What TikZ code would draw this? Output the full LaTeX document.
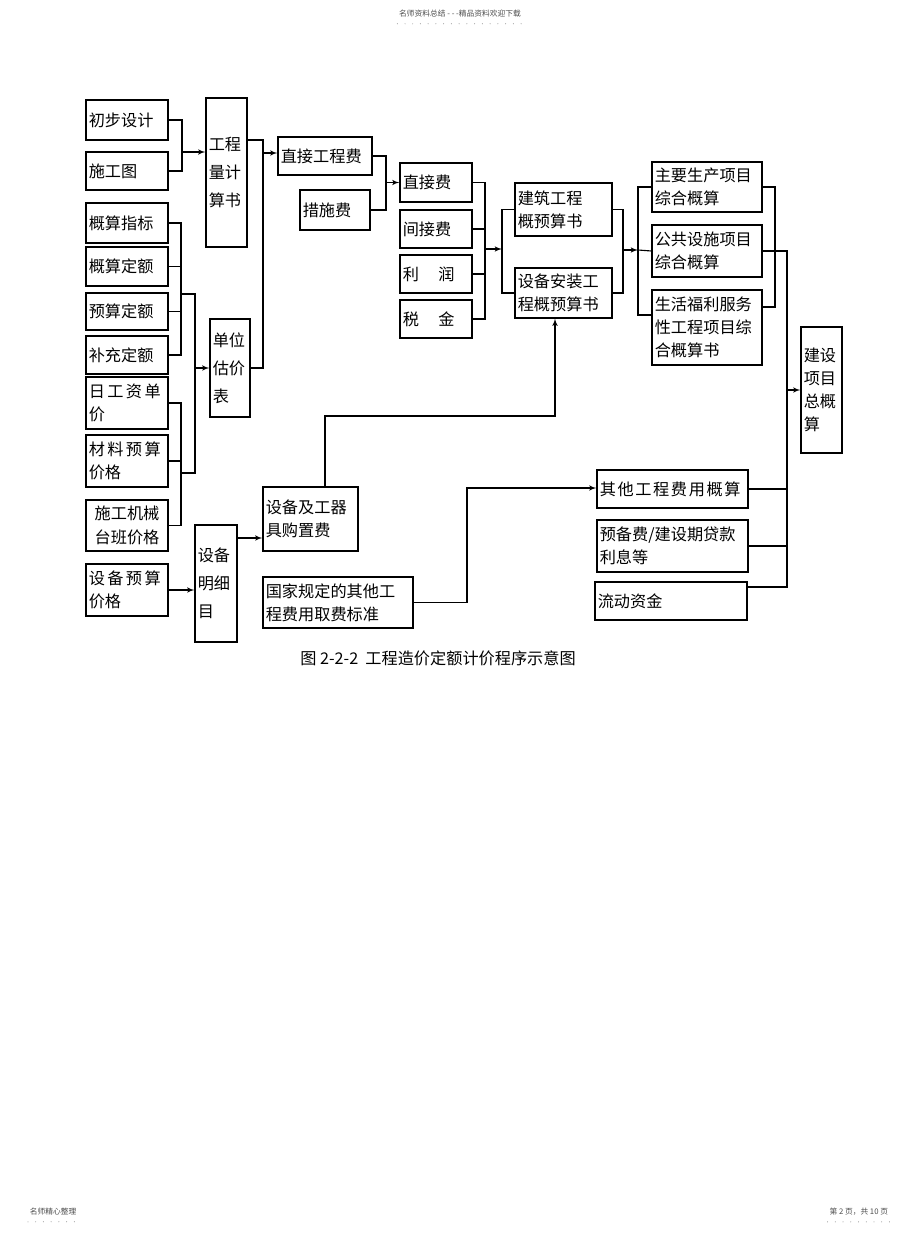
\documentclass[tikz,border=0pt]{standalone}
\usepackage{fontspec}
\newfontfamily\cjk{Noto Sans CJK SC}
\usetikzlibrary{shapes, arrows, positioning}
\tikzstyle{arr}  = [draw, -latex']
\tikzstyle{tall} = [font=\cjk\fontsize{11.5}{20}\selectfont]
\tikzstyle{tiny} = [font=\cjk\fontsize{5.5}{7}\selectfont, text=black!70, inner sep=1pt]
\tikzstyle{dots} = [line width=0.7pt, black!50, line cap=round, dash pattern=on 0pt off 5.5pt]
\tikzset{box/.style 2 args={draw, align=left, inner xsep=2pt, inner ysep=0pt,
    minimum width=#1*0.025cm, minimum height=#2*0.025cm, text width=#1*0.025cm-4pt,
    font=\cjk\fontsize{11.5}{16.5}\selectfont}}

\begin{document}
\begin{tikzpicture}[x=0.025cm, y=-0.025cm, line width=0.8pt]
\useasboundingbox (0,0) rectangle (920,1234);

% nodes
\node [box={82}{40}]        at (127, 120  ) (chubu)    {初步设计};
\node [box={82}{38}]        at (127, 171  ) (shigong)  {施工图};
\node [box={82}{40}]        at (127, 223  ) (gsZhibiao){概算指标};
\node [box={82}{39}]        at (127, 266.5) (gsDinge)  {概算定额};
\node [box={82}{37}]        at (127, 311.5) (ysDinge)  {预算定额};
\node [box={82}{38}]        at (127, 355  ) (bcDinge)  {补充定额};
\node [box={82}{52}]        at (127, 403  ) (rigz)     {日\hspace{.15em}工\hspace{.15em}资\hspace{.15em}单\\价};
\node [box={82}{52}]        at (127, 461  ) (clYusuan) {材\hspace{.15em}料\hspace{.15em}预\hspace{.15em}算\\价格};
\node [box={82}{51}, align=center] at (127, 525.5) (jixie) {施工机械\\台班价格};
\node [box={82}{52}]        at (127, 590  ) (sbYusuan) {设\hspace{.15em}备\hspace{.15em}预\hspace{.15em}算\\价格};

\node [box={41}{149}, tall] at (226.5, 172.5) (gcl)    {工程\\量计\\算书};
\node [box={40}{98}, tall]  at (230, 368  ) (dwgj)     {单位\\估价\\表};
\node [box={42}{117}, tall] at (216, 583.5) (sbmx)     {设备\\明细\\目};

\node [box={94}{38}]        at (325, 156  ) (zjgcf)    {直接工程费};
\node [box={70}{40}]        at (335, 210  ) (csf)      {措施费};
\node [box={95}{64}]        at (310.5, 519) (sbgz)     {设备及工器\\具购置费\\[-6pt]};
\node [box={150}{51}]       at (338, 602.5) (gjgd)     {国家规定的其他工\\程费用取费标准};

\node [box={72}{39}]        at (436, 182.5) (zjf)      {直接费};
\node [box={72}{38}]        at (436, 229  ) (jjf)      {间接费};
\node [box={72}{38}]        at (436, 274  ) (lirun)    {利\hspace{1.2em}润};
\node [box={72}{38}]        at (436, 319  ) (shuijin)  {税\hspace{1.2em}金};

\node [box={97}{53}]        at (563.5, 209.5) (jzgc)   {建筑工程\\概预算书};
\node [box={97}{50}]        at (563.5, 293  ) (sbaz)   {设备安装工\\程概预算书};

\node [box={110}{50}]       at (707, 187  ) (zysc)     {主要生产项目\\综合概算};
\node [box={110}{52}]       at (707, 251  ) (ggss)     {公共设施项目\\综合概算};
\node [box={110}{75}]       at (707, 327.5) (shfl)     {生活福利服务\\性工程项目综\\合概算书};

\node [box={151}{38}]       at (672.5, 489) (qtgc)     {其\hspace{.1em}他\hspace{.1em}工\hspace{.1em}程\hspace{.1em}费\hspace{.1em}用\hspace{.1em}概\hspace{.1em}算};
\node [box={151}{52}]       at (672.5, 546) (ybf)      {预备费/建设期贷款\\利息等};
\node [box={152}{38}]       at (671, 601  ) (ldzj)     {流动资金};

\node [box={41}{126}]       at (821.5, 390) (zgs)      {建设\\项目\\总概\\算};

\node [font=\cjk\fontsize{11.5}{14}\selectfont] at (438, 658) (caption)
      {图 2-2-2\ \ 工程造价定额计价程序示意图};

% page header and footer
\node [tiny]              at (460, 14)   (hdr)   {名师资料总结 - - -精品资料欢迎下载};
\node [tiny, anchor=west] at (28, 1212)  (ftl)   {名师精心整理};
\node [tiny, anchor=east] at (890, 1212) (ftr)   {第 2 页，共 10 页};
\draw [dots] ([yshift=-3pt]hdr.south west) -- ([yshift=-3pt]hdr.south east);
\draw [dots] ([yshift=-3pt]ftl.south west) -- ([yshift=-3pt]ftl.south east);
\draw [dots] ([yshift=-3pt]ftr.south west) -- ([yshift=-3pt]ftr.south east);

% junctions
\coordinate (jA)    at (182, 152);
\coordinate (bTop)  at (263, 140);
\coordinate (bArr)  at (263, 153);
\coordinate (jC)    at (386, 182.5);
\coordinate (jD)    at (485, 249);
\coordinate (jE)    at (502, 249);
\coordinate (jF)    at (623, 250);
\coordinate (jG)    at (638, 250);
\coordinate (jGlow) at (638, 315);
\coordinate (jH)    at (775, 307);
\coordinate (jI)    at (787, 390);
\coordinate (jIlow) at (787, 587);
\coordinate (kA)    at (181, 294);
\coordinate (kB)    at (181, 473);
\coordinate (kTop)  at (195, 294);
\coordinate (kBot)  at (195, 473);
\coordinate (mArr)  at (250, 538);
\coordinate (uTurn) at (325, 416);
\coordinate (uEnd)  at (555, 416);
\coordinate (vTurn) at (467, 488);

% edges
\draw (chubu.east) -| (jA);
\draw (shigong.east) -| (jA);
\draw [arr] (jA) -- (jA -| gcl.west);

\draw (bTop -| gcl.east) -- (bTop) -- (bTop |- dwgj.east) -- (dwgj.east);
\draw [arr] (bArr) -- (bArr -| zjgcf.west);

\draw (gsZhibiao.east) -| (kA |- bcDinge.east) -- (bcDinge.east);
\draw (gsDinge.east) -- (gsDinge.east -| kA);
\draw (ysDinge.east) -- (ysDinge.east -| kA);
\draw (rigz.east) -| (kB |- jixie.east) -- (jixie.east);
\draw (clYusuan.east) -- (clYusuan.east -| kB);
\draw (kA) -- (kTop) -- (kBot) -- (kB);
\draw [arr] (kTop |- dwgj.west) -- (dwgj.west);

\draw [arr] (sbYusuan.east) -- (sbYusuan.east -| sbmx.west);
\draw [arr] (sbmx.east |- mArr) -- (mArr -| sbgz.west);

\draw (zjgcf.east) -| (jC |- csf.east) -- (csf.east);
\draw [arr] (jC) -- (zjf.west);

\draw (zjf.east) -| (jD |- shuijin.east) -- (shuijin.east);
\draw (jjf.east) -- (jjf.east -| jD);
\draw (lirun.east) -- (lirun.east -| jD);
\draw [arr] (jD) -- (jE);
\draw (jzgc.west) -| (jE |- sbaz.west) -- (sbaz.west);

\draw [arr] (uTurn |- sbgz.north) -- (uTurn) -- (uEnd) -- (uEnd |- sbaz.south);

\draw (jzgc.east) -| (jF |- sbaz.east) -- (sbaz.east);
\draw [arr] (jF) -- (jG);
\draw (jG) -- (ggss.west);
\draw (zysc.west) -| (jGlow) -- (jGlow -| shfl.west);

\draw (zysc.east) -| (jH) -- (jH -| shfl.east);
\draw (ggss.east) -| (jIlow) -- (jIlow -| ldzj.east);
\draw (qtgc.east) -- (qtgc.east -| jI);
\draw (ybf.east) -- (ybf.east -| jI);
\draw [arr] (jI) -- (zgs.west);

\draw [arr] (gjgd.east) -| (vTurn) -- (vTurn -| qtgc.west);

\end{tikzpicture}
\end{document}
